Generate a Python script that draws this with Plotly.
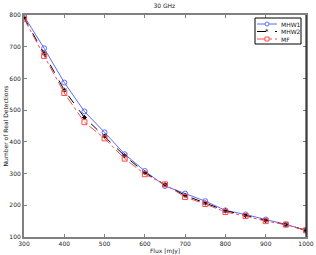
import plotly.graph_objects as go

flux = [300, 350, 400, 450, 500, 550, 600, 650, 700, 750, 800, 850, 900, 950, 1000]
mhw1 = [797, 695, 587, 496, 430, 361, 308, 261, 237, 213, 184, 171, 155, 140, 121]
mhw2 = [792, 679, 563, 477, 418, 356, 303, 265, 231, 207, 183, 168, 152, 139, 121]
mf = [788, 671, 554, 462, 411, 347, 298, 266, 226, 204, 179, 166, 150, 139, 121]
names = ["MHW1", "MHW2", "MF"]
colors = ["#5a6cff", "black", "#ff4a4a"]
dashes = ["solid", "dash", "dashdot"]

W, H = 316, 255
ML, MR, MT, MB = 24, 10, 15, 18
PW, PH = W - ML - MR, H - MT - MB

def px(x):
    return (x - ML) / PW

def py(y):
    return 1 - (y - MT) / PH

fig = go.Figure()
fig.add_trace(go.Scatter(x=flux, y=mhw1, name=names[0], mode="lines+markers",
                         line=dict(color=colors[0], width=1, dash=dashes[0]),
                         marker=dict(symbol="circle-open", size=5, color=colors[0], line=dict(width=1))))
fig.add_trace(go.Scatter(x=flux, y=mhw2, name=names[1], mode="lines+markers",
                         line=dict(color=colors[1], width=1, dash=dashes[1]),
                         marker=dict(symbol="asterisk-open", size=4, color=colors[1], line=dict(width=1))))
fig.add_trace(go.Scatter(x=flux, y=mf, name=names[2], mode="lines+markers",
                         line=dict(color=colors[2], width=1, dash=dashes[2]),
                         marker=dict(symbol="square-open", size=5, color=colors[2], line=dict(width=1))))

font = dict(family="DejaVu Sans", size=6, color="#222222")
axis_common = dict(showline=True, mirror="ticks", linecolor="#808080", linewidth=2,
                   ticks="inside", ticklen=3, tickcolor="#808080", showgrid=False, zeroline=False,
                   automargin=False, tickfont=font)
fig.update_xaxes(range=[300, 1000], tickvals=[300, 400, 500, 600, 700, 800, 900, 1000],
                 title=dict(text="Flux [mJy]", font=font, standoff=0),
                 **axis_common)
fig.update_yaxes(range=[100, 800], tickvals=[100, 200, 300, 400, 500, 600, 700, 800],
                 title=dict(text="Number of Real Detections", font=font, standoff=0),
                 **axis_common)

# right frame edge is black and thin in the reference
shapes = [dict(type="line", xref="paper", yref="paper", x0=1, x1=1, y0=0, y1=1,
               line=dict(color="black", width=1), layer="above")]
# custom compact legend
shapes.append(dict(type="rect", xref="paper", yref="paper", x0=px(255), x1=px(301), y0=py(44), y1=py(18),
                   line=dict(color="black", width=1), fillcolor="white", layer="above"))
annotations = []
rows = [24, 31.5, 39]
for i, yy in enumerate(rows):
    shapes.append(dict(type="line", xref="paper", yref="paper", x0=px(257), x1=px(277), y0=py(yy), y1=py(yy),
                       line=dict(color=colors[i], width=1, dash=dashes[i]), layer="above"))
    annotations.append(dict(text=names[i], xref="paper", yref="paper", x=px(279), y=py(yy),
                            xanchor="left", yanchor="middle", showarrow=False, font=font))
shapes.append(dict(type="circle", xref="paper", yref="paper", x0=px(265), x1=px(269), y0=py(26), y1=py(22),
                   line=dict(color=colors[0], width=1), fillcolor="white", layer="above"))
annotations.append(dict(text="*", xref="paper", yref="paper", x=px(267), y=py(32.5),
                        xanchor="center", yanchor="middle", showarrow=False,
                        font=dict(family="DejaVu Sans", size=7, color="black")))
shapes.append(dict(type="rect", xref="paper", yref="paper", x0=px(265), x1=px(269), y0=py(41), y1=py(37),
                   line=dict(color=colors[2], width=1), fillcolor="white", layer="above"))

fig.update_layout(
    width=W, height=H,
    margin=dict(l=ML, r=MR, t=MT, b=MB),
    paper_bgcolor="white", plot_bgcolor="white",
    title=dict(text="30 GHz", x=0.52, xanchor="center", y=0.985, yanchor="top",
               font=font, automargin=False),
    showlegend=False,
    shapes=shapes,
    annotations=annotations,
)
fig.write_html("out.html", config={"displayModeBar": False},
               post_script="document.body.style.margin='0';")
